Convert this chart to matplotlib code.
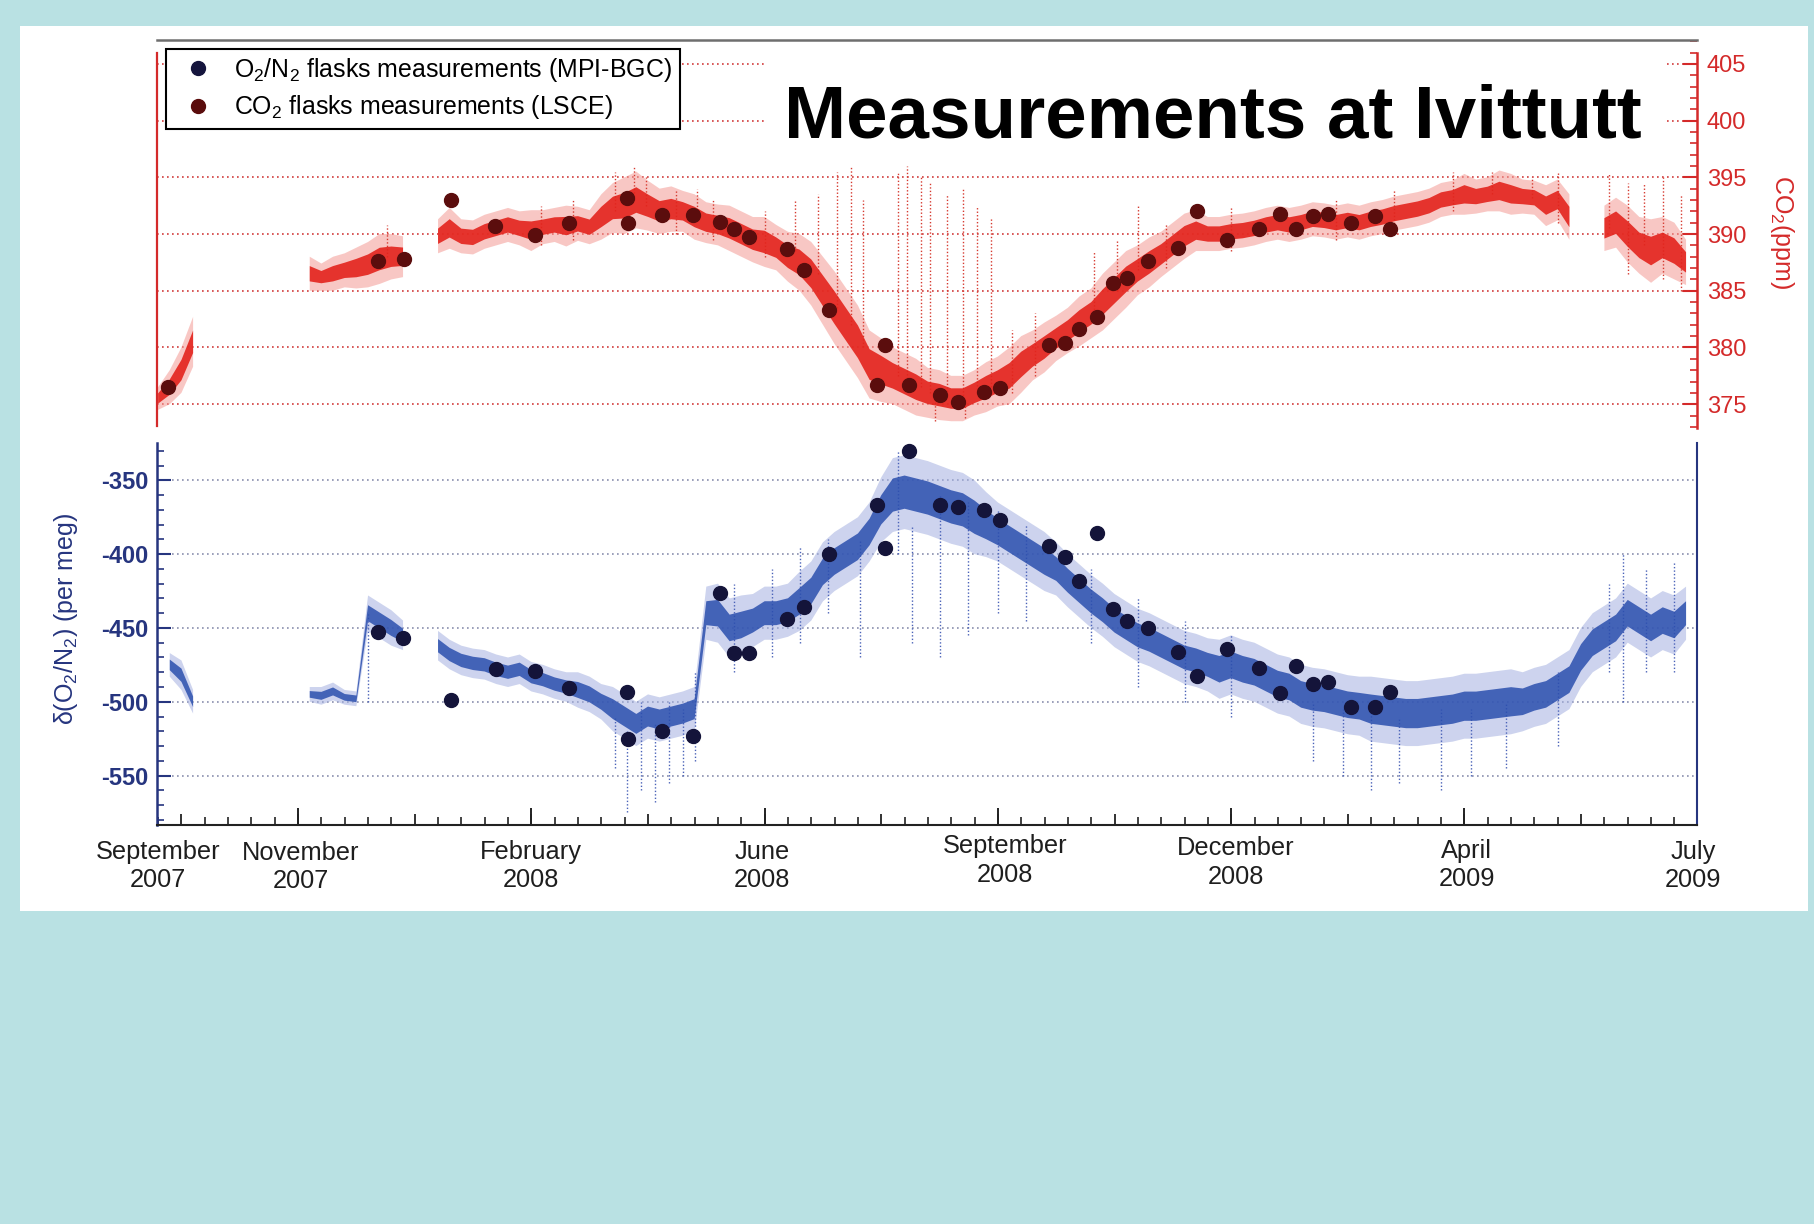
import numpy as np
import matplotlib
matplotlib.use('Agg')
import matplotlib.pyplot as plt
from matplotlib.patches import Rectangle
from matplotlib.lines import Line2D
from matplotlib.ticker import MultipleLocator

plt.rcParams['font.family'] = ['Liberation Sans', 'DejaVu Sans']
plt.rcParams['axes.unicode_minus'] = False
plt.rcParams['mathtext.default'] = 'regular'

nan = np.nan

# x axis = day number counted from 1 Jan 2007
day = np.arange(240, 900, 5)

# continuous CO2 record (ppm): centre and half-spread every 5 days
co2_mid = [375.5, 376.5, 378.0, 380.5, nan, nan, nan, nan, nan, nan,
           nan, nan, nan, 386.5, 386.2, 386.5, 386.8, 387.0, 387.3, 387.8,
           388.0, 388.0, nan, nan, 389.8, 390.5, 389.8, 389.7, 390.2, 390.5,
           390.8, 390.5, 390.3, 390.6, 390.8, 390.7, 390.9, 390.6, 391.5, 392.3,
           392.5, 393.0, 392.5, 392.0, 392.2, 392.0, 391.5, 391.0, 390.8, 390.5,
           390.0, 389.5, 389.3, 388.8, 388.0, 387.5, 386.5, 385.0, 383.5, 382.0,
           380.5, 378.5, 378.0, 377.5, 377.0, 376.5, 376.0, 375.8, 375.5, 375.5,
           376.0, 376.5, 377.0, 377.5, 378.5, 379.3, 380.0, 380.8, 381.5, 382.3,
           383.0, 384.0, 385.0, 386.0, 386.8, 387.5, 388.2, 389.0, 389.8, 390.3,
           390.0, 390.0, 390.2, 390.3, 390.5, 390.8, 391.0, 390.8, 391.0, 391.3,
           391.2, 391.0, 391.2, 391.0, 391.3, 391.5, 391.8, 392.0, 392.2, 392.5,
           393.0, 393.2, 393.5, 393.3, 393.5, 393.8, 393.5, 393.3, 393.2, 392.5,
           393.0, 391.5, nan, nan, 390.5, 391.0, 390.0, 389.0, 388.5, 389.0,
           388.5, 387.5]
co2_spread = [1.0, 1.5, 2.0, 2.2, 0, 0, 0, 0, 0, 0,
              0, 0, 0, 1.5, 1.2, 1.5, 1.5, 1.8, 2.0, 2.2,
              2.0, 1.8, 0, 0, 1.5, 1.8, 1.5, 1.5, 1.5, 1.5,
              1.5, 1.5, 1.8, 1.5, 1.5, 1.8, 1.5, 1.5, 2.0, 2.2,
              2.5, 2.5, 2.2, 2.0, 2.0, 1.8, 2.0, 1.8, 1.8, 2.0,
              2.0, 2.0, 2.2, 2.0, 2.2, 2.5, 2.8, 3.0, 3.2, 3.2,
              3.2, 3.0, 2.8, 2.5, 2.5, 2.5, 2.2, 2.2, 2.0, 2.0,
              2.0, 2.2, 2.2, 2.5, 2.5, 2.2, 2.2, 2.0, 2.0, 2.2,
              2.2, 2.5, 2.5, 2.5, 2.2, 2.2, 2.0, 2.0, 2.0, 1.8,
              1.5, 1.5, 1.5, 1.5, 1.5, 1.5, 1.5, 1.5, 1.5, 1.5,
              1.5, 1.5, 1.5, 1.5, 1.5, 1.5, 1.5, 1.5, 1.5, 1.5,
              1.5, 1.5, 1.8, 1.5, 1.5, 1.8, 1.8, 1.5, 1.5, 1.8,
              1.8, 2.0, 0, 0, 2.0, 2.2, 2.5, 2.5, 2.8, 2.5,
              2.5, 2.0]

# continuous O2/N2 record (per meg)
o2_mid = [nan, -475, -482, -500, nan, nan, nan, nan, nan, nan,
          nan, nan, nan, -495, -496, -493, -497, -498, -440, -445,
          -450, -455, nan, nan, -462, -468, -472, -474, -475, -478,
          -480, -478, -483, -485, -488, -490, -492, -495, -500, -505,
          -510, -515, -510, -512, -510, -508, -505, -440, -440, -450,
          -448, -445, -440, -440, -438, -432, -425, -412, -405, -400,
          -395, -385, -370, -360, -358, -360, -362, -365, -368, -370,
          -375, -380, -385, -390, -395, -400, -405, -410, -418, -425,
          -432, -438, -445, -450, -455, -458, -462, -466, -470, -472,
          -475, -478, -475, -478, -480, -484, -488, -490, -495, -497,
          -498, -500, -502, -503, -505, -506, -507, -508, -508, -507,
          -506, -505, -503, -503, -502, -501, -500, -500, -497, -495,
          -490, -485, -470, -460, -455, -450, -440, -445, -450, -445,
          -448, -440]
o2_spread = [0, 8, 10, 8, 0, 0, 0, 0, 0, 0,
             0, 0, 0, 5, 6, 6, 5, 5, 12, 12,
             12, 10, 0, 0, 10, 10, 10, 10, 10, 10,
             10, 10, 10, 10, 10, 10, 12, 12, 12, 15,
             15, 15, 15, 15, 15, 15, 15, 18, 20, 20,
             20, 18, 18, 18, 18, 20, 20, 20, 20, 20,
             20, 20, 22, 25, 25, 25, 25, 25, 25, 25,
             25, 22, 20, 20, 20, 20, 20, 18, 18, 18,
             18, 18, 18, 18, 18, 18, 18, 18, 18, 18,
             18, 20, 20, 20, 20, 20, 20, 20, 20, 20,
             20, 20, 20, 20, 22, 22, 22, 22, 22, 22,
             22, 22, 22, 22, 22, 22, 22, 20, 20, 20,
             20, 20, 20, 20, 20, 20, 20, 20, 20, 20,
             20, 18]

# sparse outliers
co2_spike_day = [338, 436, 444, 449, 471, 513, 523, 531, 537, 542, 557, 561, 567, 571, 578, 585,
                 591, 597, 641, 651, 660, 812, 829, 862, 877, 573, 586, 404, 418, 462, 478,
                 500, 606, 616, 672, 700, 745, 770, 795, 840, 870, 885, 893]
co2_spike_lo = [388.0, 392.0, 393.0, 392.5, 391.5, 388.5, 386.5, 383.5, 382.0, 380.0, 377.5, 377.0,
                376.5, 376.0, 375.8, 375.5, 376.0, 376.5, 383.0, 385.0, 386.8, 393.5, 393.2, 390.5,
                389.0, 373.5, 373.8, 389.0, 389.5, 390.0, 389.5, 388.0, 376.0, 377.5, 387.0,
                388.5, 389.5, 390.0, 392.0, 391.0, 386.5, 386.0, 385.0]
co2_spike_hi = [390.8, 395.5, 396.0, 395.0, 394.0, 393.0, 393.5, 395.5, 396.0, 393.0, 395.5, 396.0,
                395.0, 394.5, 393.5, 394.0, 392.5, 391.5, 388.5, 389.5, 392.5, 395.5, 395.0, 395.3,
                394.5, 376.0, 375.5, 392.5, 393.0, 394.0, 393.0, 392.0, 381.5, 383.0, 391.0,
                392.5, 393.0, 394.0, 395.5, 395.5, 394.5, 395.0, 393.5]

o2_spike_day = [330, 436, 441, 447, 453, 459, 465, 470, 527, 541, 557, 563, 575, 587, 600, 612,
                735, 748, 760, 772, 790, 803, 818, 862, 868, 487, 503, 515, 640, 660, 680,
                700, 840, 878, 890]
o2_spike_lo = [-500, -545, -575, -560, -568, -555, -550, -540, -440, -470, -400, -460, -470, -455,
               -440, -445, -540, -550, -560, -555, -560, -550, -545, -480, -500, -480, -470, -460,
               -460, -490, -500, -510, -530, -480, -480]
o2_spike_hi = [-440, -510, -520, -500, -515, -500, -505, -480, -390, -390, -330, -380, -360, -365,
               -370, -380, -500, -505, -505, -510, -505, -505, -500, -420, -400, -420, -410, -395,
               -410, -430, -445, -455, -480, -410, -405]

# flask samples
co2_flask_day = [244.1, 334.4, 345.3, 365.7, 384.4, 401.5, 416.2, 441.0, 441.5, 455.9, 469.3,
                 480.7, 486.7, 493.1, 509.5, 517.0, 527.4, 548.3, 551.7, 561.7, 575.1, 583.0,
                 593.9, 600.9, 621.7, 628.7, 634.6, 642.6, 649.5, 655.5, 664.4, 677.3, 685.3,
                 698.2, 712.1, 721.0, 728.0, 734.9, 741.4, 751.3, 761.7, 768.2]
co2_flask_val = [376.5, 387.6, 387.8, 393.0, 390.7, 389.9, 391.0, 393.2, 391.0, 391.7, 391.7,
                 391.1, 390.4, 389.7, 388.7, 386.8, 383.3, 376.7, 380.2, 376.7, 375.8, 375.2,
                 376.1, 376.4, 380.2, 380.4, 381.6, 382.7, 385.7, 386.1, 387.6, 388.8, 392.0,
                 389.5, 390.4, 391.8, 390.4, 391.6, 391.8, 391.0, 391.6, 390.4]

o2_flask_day = [334.4, 344.8, 365.7, 384.9, 401.5, 416.2, 441.0, 441.5, 455.9, 469.3,
                480.7, 486.7, 493.1, 509.5, 517.0, 527.4, 548.3, 551.7, 561.7, 575.1, 583.0,
                593.9, 600.9, 621.7, 628.7, 634.6, 642.6, 649.5, 655.5, 664.4, 677.3, 685.3,
                698.2, 712.1, 721.0, 728.0, 734.9, 741.4, 751.3, 761.7, 768.2]
o2_flask_val = [-452.7, -456.7, -499.0, -477.8, -479.4, -491.0, -493.5, -525.0, -520.0, -523.0,
                -426.0, -467.0, -467.0, -444.0, -435.5, -400.0, -367.0, -396.0, -330.0, -367.0,
                -368.0, -370.0, -376.7, -394.7, -401.8, -418.0, -386.0, -437.0, -445.0, -450.0,
                -466.0, -482.5, -464.5, -477.0, -494.0, -476.0, -488.0, -486.5, -503.7, -503.7,
                -493.5]

xtick_days = [240, 301, 400, 499, 603, 702, 801, 898]
xtick_text = ['September\n2007', 'November\n2007', 'February\n2008', 'June\n2008',
              'September\n2008', 'December\n2008', 'April\n2009', 'July\n2009']
xtick_yoff = [-0.1065, -0.110, -0.1065, -0.1065, -0.092, -0.097, -0.103, -0.1065]

RED = '#d42a2a'
BLUE = '#26357f'

fig = plt.figure(figsize=(18.15, 12.24), dpi=100)
fig.patch.set_facecolor('#b9e1e3')
fig.add_artist(Rectangle((0.01085, 0.2557), 0.9853, 0.7234, transform=fig.transFigure,
                         facecolor='white', edgecolor='none', zorder=-1))

ax1 = fig.add_axes([0.0866, 0.6503, 0.8484, 0.3170])
ax2 = fig.add_axes([0.0866, 0.3257, 0.8484, 0.3124])
for ax in (ax1, ax2):
    ax.set_facecolor('none')
    ax.set_xlim(239.6, 899.7)

# ---- CO2 panel
c = np.array(co2_mid)
s = np.array(co2_spread)
ax1.fill_between(day, c - s, c + s, color='#f49a94', alpha=0.55, lw=0, zorder=2)
ax1.fill_between(day, c - 0.45 * s, c + 0.45 * s, color='#e3231c', alpha=0.9, lw=0, zorder=3)
ax1.vlines(co2_spike_day, co2_spike_lo, co2_spike_hi, colors='#d63a30', linestyles=(0, (1, 1.5)),
           lw=1.0, zorder=2)
ax1.plot(co2_flask_day, co2_flask_val, 'o', color='#5b0d0d', ms=10, zorder=5)

ax1.set_ylim(372.9, 407.1)
ax1.spines['bottom'].set_visible(False)
ax1.spines['top'].set_color('#6e6e6e')
ax1.spines['top'].set_linewidth(1.8)
ax1.spines['left'].set_color(RED)
ax1.spines['left'].set_linewidth(1.6)
ax1.spines['left'].set_bounds(373.1, 406.0)
ax1.spines['right'].set_color(RED)
ax1.spines['right'].set_linewidth(1.8)
ax1.spines['right'].set_bounds(372.9, 406.0)
ax1.yaxis.tick_right()
ax1.yaxis.set_major_locator(MultipleLocator(5))
ax1.yaxis.set_minor_locator(MultipleLocator(1))
ax1.tick_params(axis='y', which='major', direction='in', length=10, width=1.5, colors=RED,
                labelsize=17, pad=7)
ax1.tick_params(axis='y', which='minor', direction='in', length=5, width=1.2, colors=RED)
ax1.tick_params(axis='x', which='both', bottom=False, top=False, labelbottom=False)
ax1.grid(axis='y', which='major', color='#d23b3b', linestyle=(0, (1, 2)), lw=1.2)
ax1.text(1.055, 0.506, 'CO$_2$(ppm)', transform=ax1.transAxes, rotation=270, ha='center',
         va='center', fontsize=18, color=RED)

# ---- O2/N2 panel
c = np.array(o2_mid, dtype=float)
s = np.array(o2_spread, dtype=float)
ax2.fill_between(day, c - s, c + s, color='#a4b0e0', alpha=0.55, lw=0, zorder=2)
ax2.fill_between(day, c - 0.45 * s, c + 0.45 * s, color='#2b4fae', alpha=0.85, lw=0, zorder=3)
ax2.vlines(o2_spike_day, o2_spike_lo, o2_spike_hi, colors='#4a62b8', linestyles=(0, (1, 1.5)),
           lw=1.0, zorder=2)
ax2.plot(o2_flask_day, o2_flask_val, 'o', color='#14143a', ms=10, zorder=5)

ax2.set_ylim(-583.7, -324.7)
ax2.spines['top'].set_visible(False)
ax2.spines['left'].set_color(BLUE)
ax2.spines['left'].set_linewidth(1.8)
ax2.spines['right'].set_color(BLUE)
ax2.spines['right'].set_linewidth(1.5)
ax2.spines['bottom'].set_color('#222222')
ax2.spines['bottom'].set_linewidth(1.5)
ax2.yaxis.set_major_locator(MultipleLocator(50))
ax2.yaxis.set_minor_locator(MultipleLocator(10))
ax2.tick_params(axis='y', which='major', direction='in', length=10, width=1.5, colors=BLUE,
                labelsize=17, pad=6)
ax2.tick_params(axis='y', which='minor', direction='in', length=5, width=1.2, colors=BLUE)
for lab in ax2.get_yticklabels():
    lab.set_fontweight('bold')
ax2.xaxis.set_major_locator(MultipleLocator(50))
ax2.xaxis.set_minor_locator(MultipleLocator(10))
ax2.tick_params(axis='x', which='major', direction='in', length=8, width=1.3, colors='#222222',
                labelbottom=False)
ax2.tick_params(axis='x', which='minor', direction='in', length=5.5, width=1.2, colors='#222222')
ax2.vlines([300, 400, 500, 600, 700, 800], 0, 0.045, transform=ax2.get_xaxis_transform(),
           colors='#222222', lw=1.4)
ax2.grid(axis='y', which='major', color='#8a8fae', linestyle=(0, (1, 2)), lw=1.2)
ax2.text(-0.0592, 0.54, r'$\delta$(O$_2$/N$_2$) (per meg)', transform=ax2.transAxes, rotation=90,
         ha='center', va='center', fontsize=18, color=BLUE)

for xd, txt, yo in zip(xtick_days, xtick_text, xtick_yoff):
    ax2.text(xd, yo, txt, transform=ax2.get_xaxis_transform(), ha='center', va='center',
             fontsize=18.3, linespacing=1.22, color='#1e1e1e')

# ---- legend and title
handles = [Line2D([], [], ls='none', marker='o', ms=10, color='#15153d'),
           Line2D([], [], ls='none', marker='o', ms=10, color='#5a0c0c')]
labels = ['O$_2$/N$_2$ flasks measurements (MPI-BGC)', 'CO$_2$ flasks measurements (LSCE)']
leg = ax1.legend(handles, labels, loc='upper left', bbox_to_anchor=(0.0912, 0.9603),
                 bbox_transform=fig.transFigure, frameon=True, fancybox=False, edgecolor='black',
                 framealpha=1, fontsize=17.9, handlelength=2.0, handletextpad=0.47, borderpad=0.3,
                 labelspacing=0.38, borderaxespad=0)
leg.get_frame().set_linewidth(1.5)
leg.set_zorder(10)

fig.add_artist(Rectangle((764 / 1815, 1 - 150 / 1224), (1667 - 764) / 1815, 95 / 1224,
                         transform=fig.transFigure, facecolor='white', edgecolor='none', zorder=4))
fig.text(0.4317, 0.9035, 'Measurements at Ivittutt', fontsize=53.7, fontweight='bold', ha='left',
         va='center', color='black', zorder=5)

fig.savefig('out.png', dpi=100, facecolor=fig.get_facecolor())
